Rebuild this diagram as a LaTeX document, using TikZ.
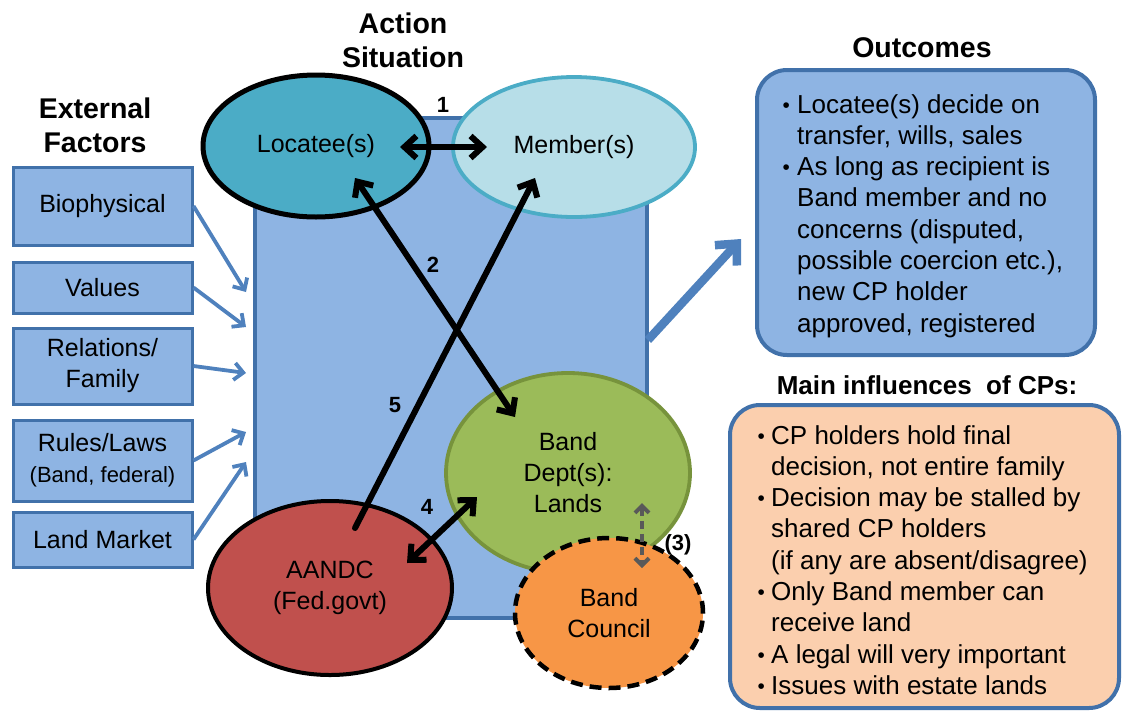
\documentclass[tikz,border=0pt]{standalone}
\usepackage{fontspec}
\setmainfont{Liberation Sans}
\usetikzlibrary{shapes.geometric,arrows.meta,calc}

\definecolor{actfill}{RGB}{142,180,227}
\definecolor{actline}{RGB}{65,113,170}
\definecolor{inarrow}{RGB}{79,129,189}
\definecolor{locfill}{RGB}{75,172,198}
\definecolor{memfill}{RGB}{183,222,232}
\definecolor{memline}{RGB}{75,172,198}
\definecolor{deptfill}{RGB}{155,187,89}
\definecolor{deptline}{RGB}{119,147,60}
\definecolor{aandcfill}{RGB}{192,80,77}
\definecolor{councilfill}{RGB}{247,150,70}
\definecolor{cpfill}{RGB}{251,207,174}
\definecolor{grayarrow}{RGB}{89,89,89}

\tikzset{
  barbtip/.tip={Straight Barb[length=12pt,width=22pt]},
  smalltip/.tip={Straight Barb[length=9pt,width=17pt]},
  bigtip/.tip={Straight Barb[length=16pt,width=30pt]},
  graytip/.tip={Straight Barb[length=7pt,width=14pt]},
}
\newcommand{\bul}{\raisebox{1pt}{\scalebox{0.8}{•}}}

\begin{document}
\begin{tikzpicture}[x=1pt,y=-1pt,
  factor/.style={draw=actline, line width=3pt, fill=actfill, minimum width=179pt,
    inner sep=0pt, align=center, font=\fontsize{25}{31}\selectfont},
  header/.style={font=\fontsize{28.5}{34}\selectfont\bfseries, align=center, inner sep=0pt},
  actor/.style={ellipse, inner sep=0pt, align=center, font=\fontsize{25}{31}\selectfont},
  numlabel/.style={font=\fontsize{22}{26}\selectfont\bfseries, inner sep=0pt},
  inflow/.style={draw=inarrow, line width=3.8pt, -smalltip},
  link/.style={draw=black, line width=6pt, line cap=round},
  bullets/.style={anchor=north west, inner sep=0pt, align=left, font=\fontsize{26}{31.3}\selectfont},
]
\useasboundingbox (0,0) rectangle (1122,713);

% headers
\node[header] (hext) at (95,125) {External\\Factors};
\node[header] (hact) at (403,40) {Action\\Situation};
\node[header] (hout) at (922,48) {Outcomes};
\node[header, font=\fontsize{26}{31}\selectfont\bfseries] (hcp) at (927,385) {Main influences~ of CPs:};

% external factors
\node[factor, minimum height=78pt] (bio) at (102.5,206) {Biophysical};
\node[factor, minimum height=51pt] (val) at (102.5,287.5) {Values};
\node[factor, minimum height=76pt] (rel) at (102.5,366) {Relations/\\Family};
\node[factor, minimum height=81pt] (rules) at (102.5,460.5) {Rules/Laws\\{\fontsize{22}{28}\selectfont(Band, federal)}};
\node[factor, minimum height=55pt] (land) at (102.5,539.5) {Land Market};

% action situation
\node[draw=actline, line width=4pt, fill=actfill, minimum width=392pt, minimum height=500pt, inner sep=0pt] (act) at (451,368) {};

\coordinate (in1) at (246,292);
\coordinate (in2) at (246,327);
\coordinate (in3) at (246,373);
\coordinate (in4) at (246,432);
\coordinate (in5) at (246,462);
\draw[inflow] (bio.east) -- (in1);
\draw[inflow] (val.east) -- (in2);
\draw[inflow] (rel.east) -- (in3);
\draw[inflow] (rules.east) -- (in4);
\draw[inflow] (land.east) -- (in5);

% outcomes
\node[draw=actline, line width=4pt, fill=actfill, rounded corners=30pt, minimum width=338pt, minimum height=285pt, inner sep=0pt] (outbox) at (926,212.5) {};
\node[bullets] (outtext) at (782.5,94) {%
\makebox[14.5pt][l]{\bul}Locatee(s) decide on\\
\hspace*{14.5pt}transfer, wills, sales\\
\makebox[14.5pt][l]{\bul}As long as recipient is\\
\hspace*{14.5pt}Band member and no\\
\hspace*{14.5pt}concerns (disputed,\\
\hspace*{14.5pt}possible coercion etc.),\\
\hspace*{14.5pt}new CP holder\\
\hspace*{14.5pt}approved, registered};

\coordinate (outstart) at ($(act.east)+(-1,-28)$);
\coordinate (outtip) at (741,239);
\draw[draw=inarrow, line width=8.5pt, -bigtip] (outstart) -- (outtip);

% influences of CPs
\node[draw=actline, line width=4pt, fill=cpfill, rounded corners=30pt, minimum width=389pt, minimum height=303pt, inner sep=0pt] (cpbox) at (924.5,556.5) {};
\node[bullets] (cptext) at (757.5,425) {%
\makebox[13.5pt][l]{\bul}CP holders hold final\\
\hspace*{13.5pt}decision, not entire family\\
\makebox[13.5pt][l]{\bul}Decision may be stalled by\\
\hspace*{13.5pt}shared CP holders\\
\hspace*{13.5pt}(if any are absent/disagree)\\
\makebox[13.5pt][l]{\bul}Only Band member can\\
\hspace*{13.5pt}receive land\\
\makebox[13.5pt][l]{\bul}A legal will very important\\
\makebox[13.5pt][l]{\bul}Issues with estate lands};

% actors
\node[actor, draw=black, line width=5pt, fill=locfill, minimum width=226pt, minimum height=142pt] (loc) at (316,146) {Locatee(s)};
\node[actor, draw=memline, line width=3.8pt, fill=memfill, minimum width=242pt, minimum height=140pt] (mem) at (574,147) {Member(s)};
\node[actor, draw=deptline, line width=3.8pt, fill=deptfill, minimum width=244pt, minimum height=200pt] (dept) at (568,473) {Band\\Dept(s):\\Lands};
\node[actor, draw=black, line width=4pt, fill=aandcfill, minimum width=244pt, minimum height=174pt] (aandc) at (330,588) {AANDC\\(Fed.govt)};
\node[actor, draw=black, line width=4.5pt, dash pattern=on 12pt off 7pt, fill=councilfill, minimum width=188pt, minimum height=150pt] (council) at (609,613) {Band\\Council};

% interactions
\draw[link, barbtip-barbtip] ($(loc.center)+(84,1)$) -- ($(mem.center)+(-87,0)$);
\draw[link, barbtip-barbtip] ($(loc.center)+(39,32)$) -- ($(dept.center)+(-53,-56)$);
\draw[link, -barbtip] ($(aandc.center)+(25,-60)$) -- ($(mem.center)+(-39,31)$);
\draw[link, barbtip-barbtip] ($(aandc.center)+(77,-25)$) -- ($(dept.center)+(-91,24)$);
\draw[draw=grayarrow, line width=4pt, dash pattern=on 8pt off 5pt, graytip-graytip] ($(dept.center)+(74,30)$) -- ($(council.center)+(33,-45)$);

% interaction numbers
\node[numlabel] (n1) at (443,105) {1};
\node[numlabel] (n2) at (433,265) {2};
\node[numlabel] (n5) at (395,405) {5};
\node[numlabel] (n4) at (427,507) {4};
\node[numlabel, font=\fontsize{22}{26}\selectfont\bfseries] (n3) at (678,545) {(3)};
\end{tikzpicture}
\end{document}
